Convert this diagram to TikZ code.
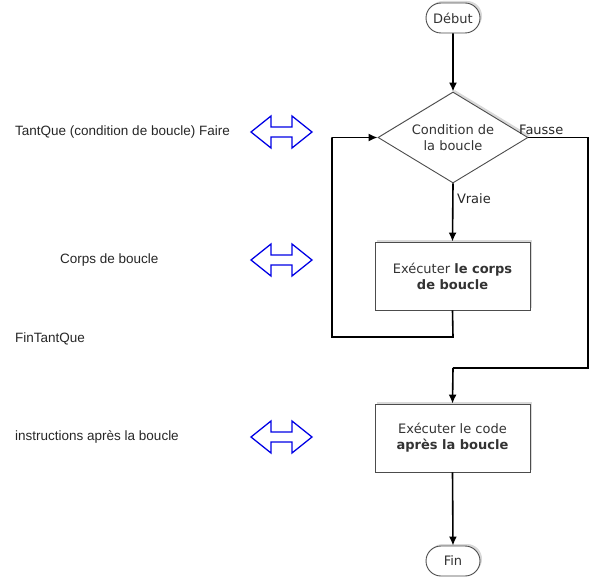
\documentclass[tikz,border=0pt]{standalone}
\usepackage{fontspec}
\setmainfont{DejaVu Sans}
\newfontfamily\arialf{Liberation Sans}
\usetikzlibrary{shapes.geometric,shapes.misc,shadows,arrows.meta}
\begin{document}
\begin{tikzpicture}[x=1pt,y=-1pt,
  flow/.style={draw=black!70, line width=0.9pt, fill=white, text=black!80,
    font=\fontsize{13}{16}\selectfont, align=center,
    drop shadow={shadow xshift=2pt, shadow yshift=2pt, opacity=0.3}},
  term/.style={flow, rounded rectangle, minimum width=58pt, minimum height=30pt, inner sep=2pt},
  stepbox/.style={flow, rectangle, minimum width=155pt, minimum height=68pt},
  cond/.style={flow, diamond, minimum width=150pt, minimum height=91pt, inner sep=0pt, aspect=1.65},
  conn/.style={line width=1.6pt, -{Latex[length=9pt,width=8pt]}},
  line/.style={line width=1.6pt},
  lab/.style={font=\fontsize{13}{16}\selectfont, text=black!85},
  side/.style={font=\arialf\fontsize{13.5}{16}\selectfont, text=black!85, anchor=west, inner sep=0pt},
  dbl/.style={draw=blue!90!black, line width=1.3pt, line join=miter, fill=white}
]
\useasboundingbox (0,0) rectangle (599,580);

\node[term] (debut) at (453,18) {Début};
\node[cond] (cond) at (453,137.5) {Condition de\\la boucle};
\node[stepbox] (corps) at (452.5,276) {Exécuter \textbf{le corps}\\\textbf{de boucle}};
\node[stepbox] (apres) at (452.5,438) {Exécuter le code\\\textbf{après la boucle}};
\node[term] (fin) at (453,561) {Fin};

\coordinate (r1) at (588,137.5);
\coordinate (r2) at (588,368);
\coordinate (r3) at (453,368);
\coordinate (l1) at (453,337);
\coordinate (l2) at (332,337);
\coordinate (l3) at (332,137.5);

\draw[conn] (debut) -- (cond.north);
\draw[conn] (cond.south) -- (corps.north) node[lab, pos=0.27, right=0pt] (vraie) {Vraie};
\draw[line] (cond.east) -- (r1) -- (r2) -- (r3);
\draw[conn] (r3) -- (apres.north);
\node[lab, anchor=south west, inner sep=1pt] (fausse) at (518,136) {Fausse};
\draw[line] (corps.south) -- (l1) -- (l2) -- (l3);
\draw[conn] (l3) -- (cond.west);
\draw[conn] (apres.south) -- (fin.north);

\node[side] (t1) at (15,132) {TantQue (condition de boucle) Faire};
\node[side] (t2) at (60,260) {Corps de boucle};
\node[side] (t3) at (15,339) {FinTantQue};
\node[side] (t4) at (15,437) {instructions après la boucle};

\foreach \cy in {132,260,437}{
  \draw[dbl] (251,\cy) -- (271,\cy-16) -- (271,\cy-5) -- (292,\cy-5) -- (292,\cy-16)
    -- (312,\cy) -- (292,\cy+16) -- (292,\cy+5) -- (271,\cy+5) -- (271,\cy+16) -- cycle;
}
\end{tikzpicture}
\end{document}
